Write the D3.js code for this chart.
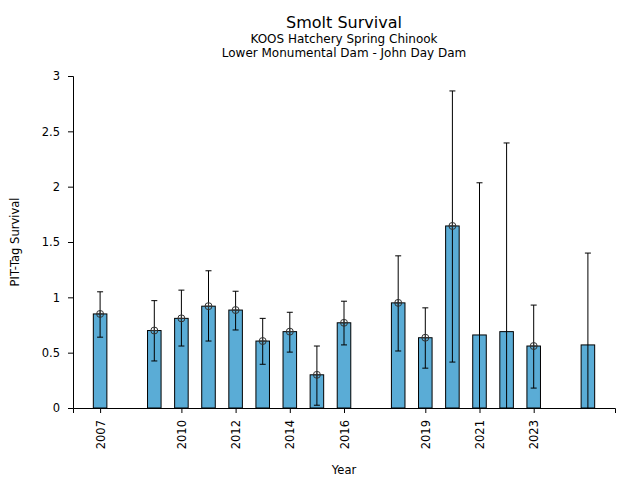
<!DOCTYPE html>
<html>
  <head>
    <script src="https://d3js.org/d3.v7.min.js"></script>
    <style>
      body { margin: 0; background: white; }
      text { font-family: "DejaVu Sans", sans-serif; fill: black; }
    </style>
  </head>
  <body>
    <svg id="chart" width="640" height="480"></svg>
    <script>
      // Survival estimates
      var years     = [2007, 2009, 2010, 2011, 2012, 2013, 2014, 2015, 2016, 2018, 2019, 2020, 2021, 2022, 2023, 2025];
      var survival  = [0.85, 0.70, 0.81, 0.92, 0.885, 0.605, 0.69, 0.30, 0.77, 0.95, 0.635, 1.645, 0.66, 0.69, 0.56, 0.57];
      var upper     = [1.05, 0.97, 1.065, 1.24, 1.055, 0.81, 0.865, 0.56, 0.965, 1.375, 0.905, 2.865, 2.035, 2.395, 0.93, 1.40];
      var lower     = [0.64, 0.425, 0.56, 0.605, 0.705, 0.395, 0.505, 0.025, 0.57, 0.515, 0.36, 0.415, -0.5, -0.5, 0.18, -0.5];
      var showPoint = [1, 1, 1, 1, 1, 1, 1, 1, 1, 1, 1, 1, 0, 0, 1, 0];
      var tickYears = [2007, 2010, 2012, 2014, 2016, 2019, 2021, 2023];
      var yTicks    = [0, 0.5, 1, 1.5, 2, 2.5, 3];

      var svg = d3.select("#chart");
      var margin = {left: 73, right: 25, top: 76, bottom: 72};
      var w = 640 - margin.left - margin.right;
      var h = 480 - margin.top - margin.bottom;

      var x = d3.scaleLinear().domain([2006, 2026]).range([0, w]);
      var y = d3.scaleLinear().domain([0, 3]).range([h, 0]);

      var g = svg.append("g").attr("transform", "translate(" + margin.left + "," + margin.top + ")");

      // clip so the error lines stop at the axis
      svg.append("clipPath").attr("id", "plotclip")
        .append("rect").attr("x", 0).attr("y", -10).attr("width", w).attr("height", h + 10);

      var rows = years.map(function(d, i) {
        return {year: d, v: survival[i], hi: upper[i], lo: lower[i], pt: showPoint[i]};
      });

      var barW = x(2006.5) - x(2006);

      g.selectAll(".bar").data(rows).enter().append("rect")
        .attr("class", "bar")
        .attr("x", function(d) { return x(d.year) - barW / 2; })
        .attr("y", function(d) { return y(d.v); })
        .attr("width", barW)
        .attr("height", function(d) { return y(0) - y(d.v); })
        .attr("fill", "#5aacd6")
        .attr("stroke", "black")
        .attr("stroke-width", 1);

      var err = g.append("g").attr("clip-path", "url(#plotclip)");
      err.selectAll(".err").data(rows).enter().append("line")
        .attr("x1", function(d) { return x(d.year); })
        .attr("x2", function(d) { return x(d.year); })
        .attr("y1", function(d) { return y(d.lo); })
        .attr("y2", function(d) { return y(d.hi); })
        .attr("stroke", "black").attr("stroke-width", 1);

      // caps
      var caps = [];
      rows.forEach(function(d) {
        caps.push({year: d.year, v: d.hi});
        if (d.lo > 0) caps.push({year: d.year, v: d.lo});
      });
      err.selectAll(".cap").data(caps).enter().append("line")
        .attr("x1", function(d) { return x(d.year) - 3; })
        .attr("x2", function(d) { return x(d.year) + 3; })
        .attr("y1", function(d) { return y(d.v); })
        .attr("y2", function(d) { return y(d.v); })
        .attr("stroke", "black").attr("stroke-width", 1);

      // circle-plus markers
      var pts = g.selectAll(".pt").data(rows.filter(function(d) { return d.pt; })).enter().append("g")
        .attr("transform", function(d) { return "translate(" + x(d.year) + "," + y(d.v) + ")"; });
      pts.append("circle").attr("r", 3.5).attr("fill", "none").attr("stroke", "#333").attr("stroke-width", 1);
      pts.append("path").attr("d", "M-3.5,0H3.5M0,-3.5V3.5").attr("stroke", "#333").attr("stroke-width", 1);

      // axes
      var xAxis = g.append("g").attr("transform", "translate(0," + h + ")")
        .call(d3.axisBottom(x).tickValues(tickYears).tickFormat(d3.format("d")).tickSizeOuter(0).tickSize(5));
      xAxis.selectAll("text")
        .attr("transform", "rotate(-90)")
        .attr("text-anchor", "end")
        .attr("x", -12).attr("y", 0).attr("dy", "0.35em")
        .style("font-size", "11.5px");

      var yAxis = g.append("g")
        .call(d3.axisLeft(y).tickValues(yTicks).tickFormat(function(d) { return String(d); }).tickSizeOuter(0).tickSize(5));
      yAxis.selectAll("text").attr("x", -13).style("font-size", "11.5px");

      g.selectAll(".domain").attr("stroke", "black");
      g.selectAll(".tick line").attr("stroke", "black");

      // titles
      var cx = margin.left + w / 2;
      svg.append("text").attr("x", cx).attr("y", 28).attr("text-anchor", "middle")
        .style("font-size", "16px").text("Smolt Survival");
      svg.append("text").attr("x", cx).attr("y", 43).attr("text-anchor", "middle")
        .style("font-size", "12px").text("KOOS Hatchery Spring Chinook");
      svg.append("text").attr("x", cx).attr("y", 57).attr("text-anchor", "middle")
        .style("font-size", "12px").text("Lower Monumental Dam - John Day Dam");

      svg.append("text").attr("x", cx).attr("y", 474).attr("text-anchor", "middle")
        .style("font-size", "11.5px").text("Year");
      svg.append("text").attr("transform", "translate(19," + (margin.top + h / 2) + ") rotate(-90)")
        .attr("text-anchor", "middle").style("font-size", "11.5px").text("PIT-Tag Survival");
    </script>
  </body>
</html>
